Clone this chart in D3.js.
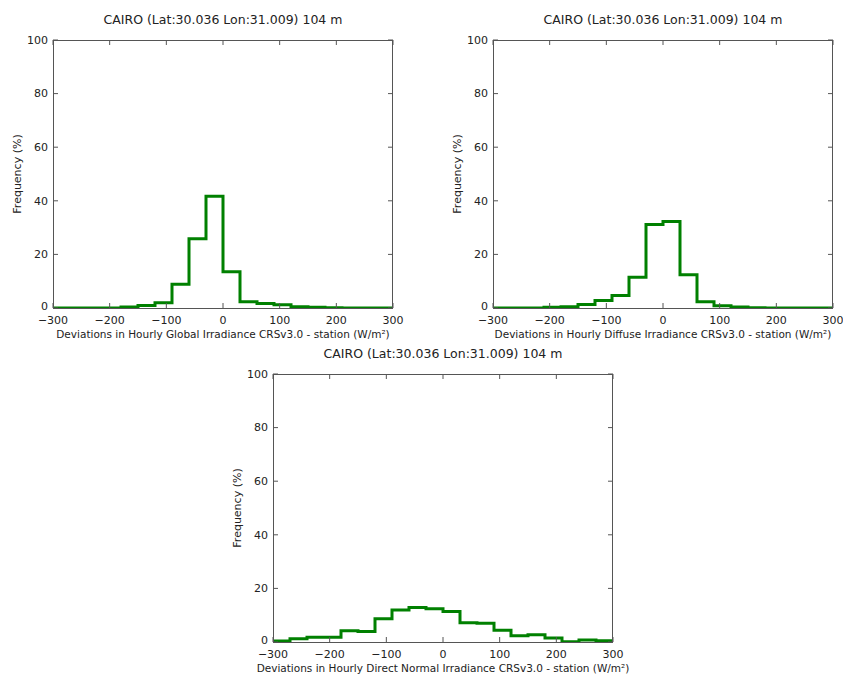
<!DOCTYPE html>
<meta charset="utf-8">
<style>
html, body { margin: 0; background: #fff; }
text { font-family: "DejaVu Sans", sans-serif; fill: #222; }
.frame { fill: none; stroke: #555; stroke-width: 1; }
.tick-mark { stroke: #555; stroke-width: 1; }
.hist { fill: none; stroke: #008000; stroke-width: 3; stroke-linejoin: miter; }
</style>
<body>
<svg id="chart" width="843" height="674"></svg>
</body>
<script src="https://cdn.jsdelivr.net/npm/d3@7"></script>
<script>

var binEdges = [-300, -270, -240, -210, -180, -150, -120, -90, -60, -30, 0,
                30, 60, 90, 120, 150, 180, 210, 240, 270, 300]

var globalFreq = [0, 0, 0, 0, 0.4, 0.9, 2.0, 8.9, 25.8, 41.7,
                  13.5, 2.3, 1.7, 1.2, 0.5, 0.25, 0.05, 0, 0, 0]
var diffuseFreq = [0, 0, 0, 0.25, 0.5, 1.3, 2.8, 4.7, 11.5, 31.2,
                   32.3, 12.4, 2.3, 0.8, 0.4, 0.1, 0, 0, 0, 0]
var directFreq = [0.4, 1.2, 1.8, 1.8, 4.2, 3.9, 8.7, 11.9, 12.9, 12.4,
                  11.4, 7.2, 7.0, 4.4, 2.3, 2.7, 1.5, 0.1, 0.75, 0.5]

var xTicks = [-300, -200, -100, 0, 100, 200, 300]
var yTicks = [0, 20, 40, 60, 80, 100]

var title = "CAIRO (Lat:30.036 Lon:31.009) 104 m"
var yLabel = "Frequency (%)"

var panels = [
  { values: globalFreq, left: 53, top: 40, xlabel: "Deviations in Hourly Global Irradiance CRSv3.0 - station (W/m²)" },
  { values: diffuseFreq, left: 493, top: 40, xlabel: "Deviations in Hourly Diffuse Irradiance CRSv3.0 - station (W/m²)" },
  { values: directFreq, left: 273, top: 374, xlabel: "Deviations in Hourly Direct Normal Irradiance CRSv3.0 - station (W/m²)" }
]

var plotW = 340, plotH = 268, tickLen = 5

var svg = d3.select("#chart")

panels.forEach(function (p, idx) {
  var x = d3.scaleLinear().domain([-300, 300]).range([0, plotW])
  var y = d3.scaleLinear().domain([0, 100]).range([plotH, 0])

  var g = svg.append("g").attr("transform", "translate(" + p.left + "," + p.top + ")")

  g.append("clipPath").attr("id", "clip" + idx)
    .append("rect").attr("width", plotW).attr("height", plotH)

  // step outline like matplotlib histtype='step'
  var pts = [[binEdges[0], 0]]
  p.values.forEach(function (v, i) {
    pts.push([binEdges[i], v])
    pts.push([binEdges[i + 1], v])
  })
  pts.push([binEdges[binEdges.length - 1], 0])

  var line = d3.line()
    .x(function (d) { return x(d[0]) })
    .y(function (d) { return y(d[1]) })

  g.append("path")
    .attr("class", "hist")
    .attr("clip-path", "url(#clip" + idx + ")")
    .attr("d", line(pts))

  // ticks pointing in, all four sides
  xTicks.forEach(function (t) {
    g.append("line").attr("class", "tick-mark")
      .attr("x1", x(t)).attr("x2", x(t)).attr("y1", plotH).attr("y2", plotH - tickLen)
    g.append("line").attr("class", "tick-mark")
      .attr("x1", x(t)).attr("x2", x(t)).attr("y1", 0).attr("y2", tickLen)
    g.append("text")
      .attr("x", x(t)).attr("y", plotH + 16)
      .attr("text-anchor", "middle").attr("font-size", 11)
      .text(d3.format("")(t).replace("-", "\u2212"))
  })
  yTicks.forEach(function (t) {
    g.append("line").attr("class", "tick-mark")
      .attr("x1", 0).attr("x2", tickLen).attr("y1", y(t)).attr("y2", y(t))
    g.append("line").attr("class", "tick-mark")
      .attr("x1", plotW).attr("x2", plotW - tickLen).attr("y1", y(t)).attr("y2", y(t))
    g.append("text")
      .attr("x", -5).attr("y", y(t) - (t === 0 ? 2 : 0)).attr("dy", "0.35em")
      .attr("text-anchor", "end").attr("font-size", 11)
      .text(t)
  })

  g.append("rect").attr("class", "frame")
    .attr("x", 0.5).attr("y", 0.5).attr("width", plotW - 1).attr("height", plotH)

  g.append("text")
    .attr("x", plotW / 2).attr("y", -16)
    .attr("text-anchor", "middle").attr("font-size", 12.5)
    .text(title)

  g.append("text")
    .attr("x", plotW / 2).attr("y", plotH + 30)
    .attr("text-anchor", "middle").attr("font-size", 10.5)
    .text(p.xlabel)

  g.append("text")
    .attr("transform", "translate(-32," + (plotH / 2) + ") rotate(-90)")
    .attr("text-anchor", "middle").attr("font-size", 11)
    .text(yLabel)
})

</script>
